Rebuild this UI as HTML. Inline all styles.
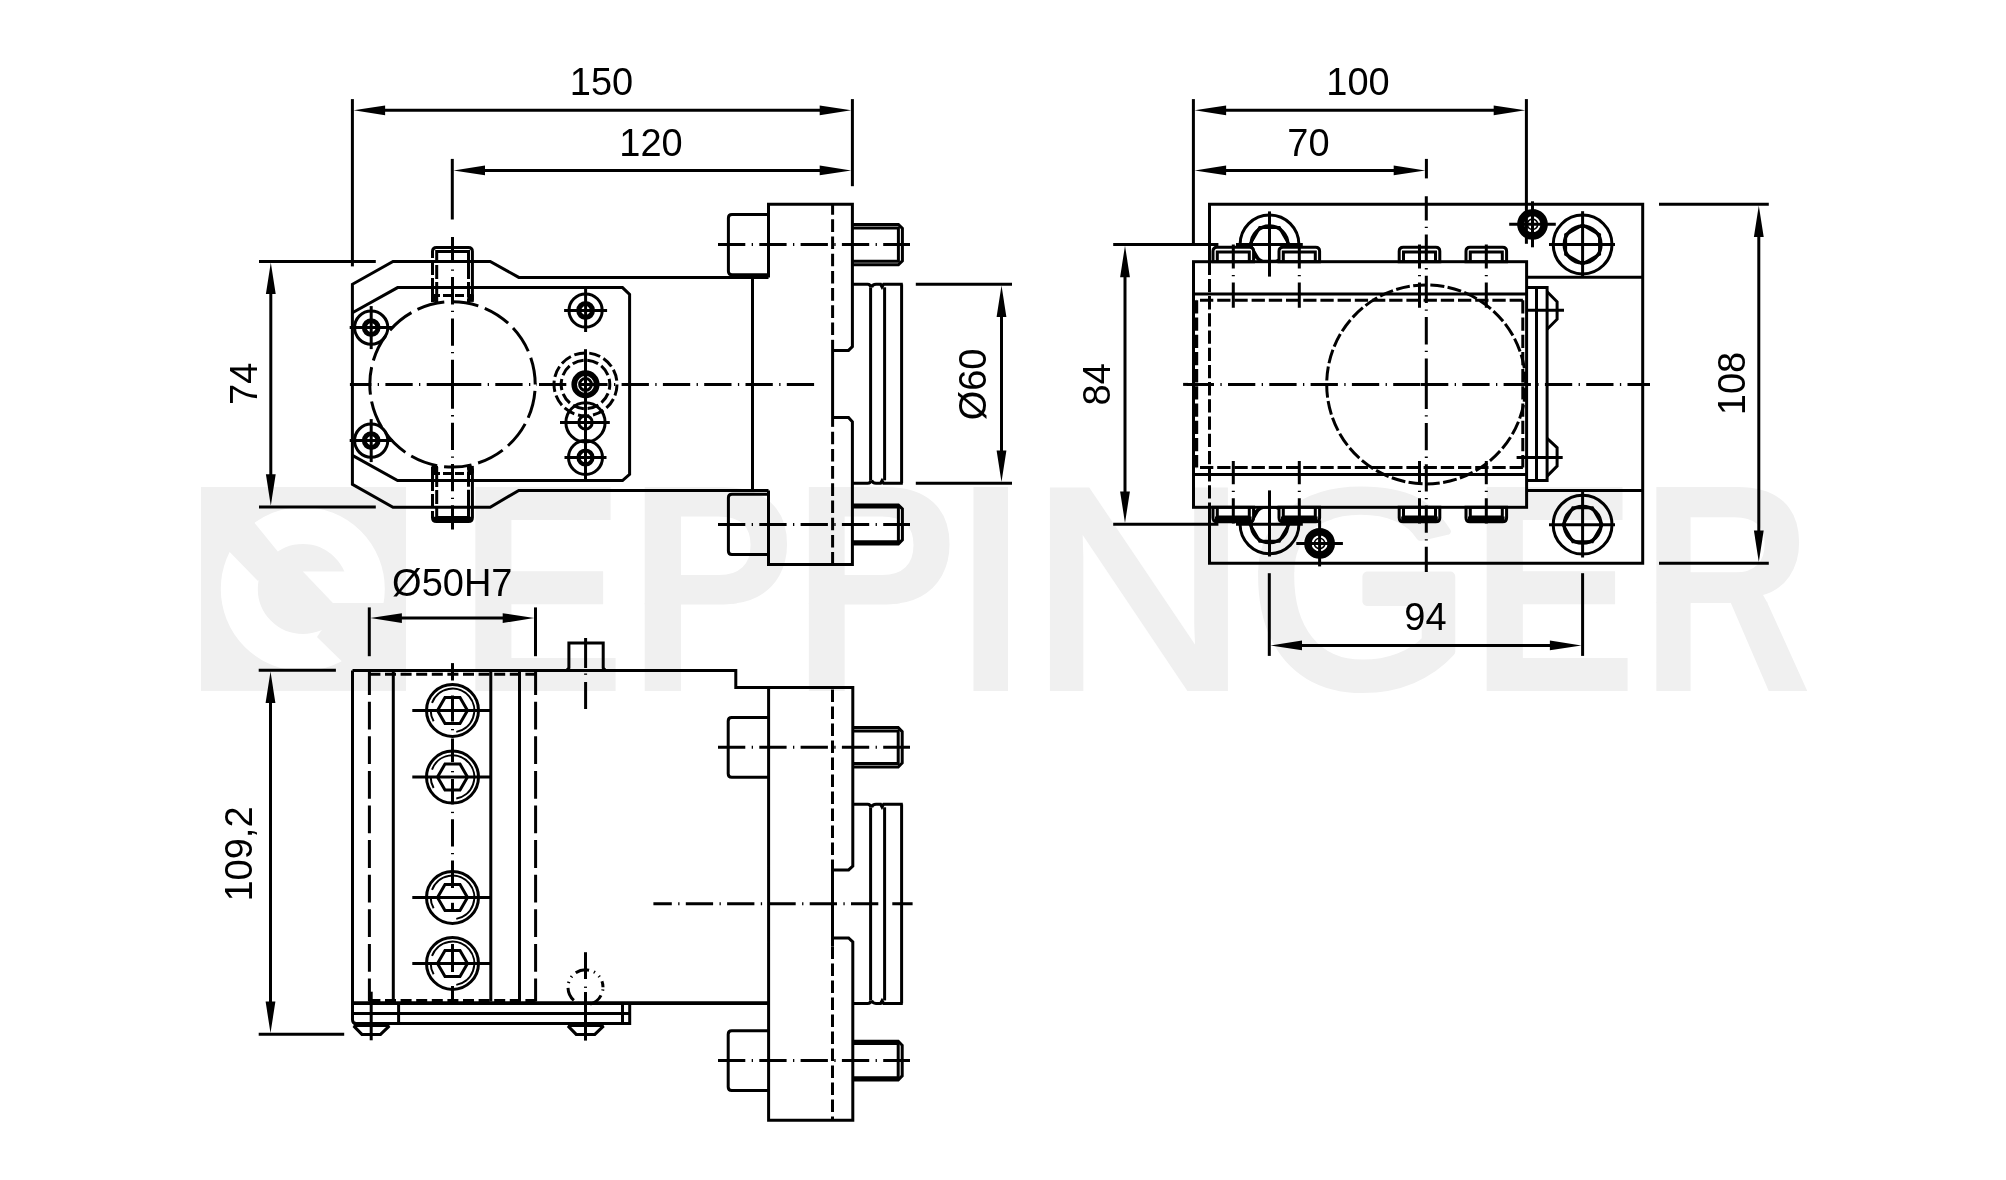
<!DOCTYPE html>
<html><head><meta charset="utf-8"><title>Drawing</title>
<style>
html,body{margin:0;padding:0;background:#fff;}
body{width:2006px;height:1180px;overflow:hidden;}
svg{display:block;font-family:"Liberation Sans",sans-serif;}
</style></head><body>
<svg width="2006" height="1180" viewBox="0 0 2006 1180" fill="none" stroke="#000" stroke-linecap="butt" stroke-linejoin="miter">
<rect x="0" y="0" width="2006" height="1180" fill="#fff" stroke="none"/>
<g stroke="none" fill="#f0f0f0">
<rect x="201" y="487" width="205" height="203.9"/>
</g>
<g stroke="none">
<circle cx="302.8" cy="589" r="63.5" fill="none" stroke="#fff" stroke-width="37"/>
<polygon points="244,510 279,553 258,581 218,540" fill="#f0f0f0"/>
<polygon points="340,603.1 395,603.1 395,680 361,680 317,637" fill="#f0f0f0"/>
<polygon points="302.8,571.5 352,571.5 352,603.1 332.9,603.1" fill="#fff"/>
</g>
<g stroke="none" fill="#f0f0f0" font-weight="bold" font-size="296.5" aria-label="EPPINGER"><title>EPPINGER</title>
<text x="0" y="0" transform="translate(458.66 691) scale(0.8429 1)">E</text>
<clipPath id="wt1"><rect x="624.9" y="470" width="182.1" height="134.2"/></clipPath>
<clipPath id="wb1"><rect x="624.9" y="603" width="182.1" height="116.4"/></clipPath>
<g clip-path="url(#wt1)"><text x="0" y="0" transform="translate(627.9 667.89) scale(0.8482 0.8867)">P</text></g>
<g clip-path="url(#wb1)"><text x="0" y="0" transform="translate(627.9 691) scale(0.8482 1.2055)">P</text></g>
<clipPath id="wt2"><rect x="789" y="470" width="180.5" height="134.2"/></clipPath>
<clipPath id="wb2"><rect x="789" y="603" width="180.5" height="116.4"/></clipPath>
<g clip-path="url(#wt2)"><text x="0" y="0" transform="translate(792.19 667.89) scale(0.8387 0.8867)">P</text></g>
<g clip-path="url(#wb2)"><text x="0" y="0" transform="translate(792.19 691) scale(0.8387 1.2055)">P</text></g>
<text x="0" y="0" transform="translate(957.42 691) scale(0.8092 1)">I</text>
<text x="0" y="0" font-weight="normal" stroke="#f0f0f0" stroke-width="8" transform="translate(1029.09 687.24) scale(1.0253 0.9604)">N</text>
<clipPath id="wc3"><rect x="1217.97" y="477.5" width="320" height="43.1"/></clipPath>
<g clip-path="url(#wc3)"><text x="0" y="0" font-weight="normal" stroke="#f0f0f0" stroke-width="9" stroke-linejoin="round" transform="translate(1247.97 675.12) scale(0.9734 0.8915)">G</text></g>
<clipPath id="wc4"><rect x="1217.97" y="519.4" width="320" height="52.5"/></clipPath>
<g clip-path="url(#wc4)"><text x="0" y="0" font-weight="normal" stroke="#f0f0f0" stroke-width="9" stroke-linejoin="round" transform="translate(1247.97 653.23) scale(0.9734 0.7657)">G</text></g>
<clipPath id="wc5"><rect x="1217.97" y="570.7" width="320" height="136.4"/></clipPath>
<g clip-path="url(#wc5)"><text x="0" y="0" font-weight="normal" stroke="#f0f0f0" stroke-width="9" stroke-linejoin="round" transform="translate(1247.97 685.21) scale(0.9734 1.0646)">G</text></g>
<text x="0" y="0" transform="translate(1469.87 691) scale(0.8471 1)">E</text>
<clipPath id="wt6"><rect x="1636.2" y="470" width="189" height="133.2"/></clipPath>
<clipPath id="wb6"><rect x="1636.2" y="602" width="189" height="117.4"/></clipPath>
<g clip-path="url(#wt6)"><text x="0" y="0" transform="translate(1640.41 673.42) scale(0.8020 0.9138)">R</text></g>
<g clip-path="url(#wb6)"><text x="0" y="0" transform="translate(1640.41 691) scale(0.8020 1.1406)">R</text></g>
</g>
<path d="M768.5 277.4 L518.8 277.4 L490.2 261.4 L393 261.4 L352.4 284.3 L352.4 484.4 L393 507.3 L490.2 507.3 L518.8 490.4 L768.5 490.4" fill="none" stroke-width="3" />
<line x1="752.5" y1="277.4" x2="752.5" y2="490.4" stroke-width="3" />
<path d="M352.4 312.8 L397.6 287.6 L622.5 287.6 L629.6 294.3 L629.6 474.3 L622.5 480.6 L397.6 480.6 L352.4 455.4" fill="none" stroke-width="3" />
<path d="M832.6 350.4 L848.5 350.4 L852.4 346.6 L852.4 204.3 L768.5 204.3 L768.5 277.4" fill="none" stroke-width="3" />
<path d="M768.5 490.4 L768.5 564.5 L852.4 564.5 L852.4 421.8 L848.5 417.4 L832.6 417.4" fill="none" stroke-width="3" />
<line x1="832.6" y1="339.8" x2="832.6" y2="426.8" stroke-width="3" />
<line x1="832.6" y1="204.3" x2="832.6" y2="339.8" stroke-width="3" stroke-dasharray="12.6 4.6" stroke-dashoffset="2.2"/>
<line x1="832.6" y1="426.8" x2="832.6" y2="564.5" stroke-width="3" stroke-dasharray="12.6 4.6" stroke-dashoffset="12.3"/>
<path d="M768.5 214.4 H731.9 Q728.4 214.4 728.4 217.9 V271.3 Q728.4 274.8 731.9 274.8 H768.5" fill="none" stroke-width="3" />
<path d="M852.4 224.4 H898.4 L902.4 228.4 V260.8 L898.4 264.8 H852.4" fill="none" stroke-width="3" />
<path d="M852.4 228 H898.4 V261.2 H852.4" fill="none" stroke-width="3" />
<line x1="718" y1="244.6" x2="910" y2="244.6" stroke-width="3" stroke-dasharray="27.3 6.4 1.3 6.3" stroke-dashoffset="0"/>
<path d="M768.5 494.2 H731.9 Q728.4 494.2 728.4 497.7 V551.1 Q728.4 554.6 731.9 554.6 H768.5" fill="none" stroke-width="3" />
<path d="M852.4 504.9 H898.4 L902.4 508.9 V539.9 L898.4 543.9 H852.4" fill="none" stroke-width="3" />
<path d="M852.4 507.1 H898.4 V541.7 H852.4" fill="none" stroke-width="3" />
<line x1="718" y1="524.4" x2="910" y2="524.4" stroke-width="3" stroke-dasharray="27.3 6.4 1.3 6.3" stroke-dashoffset="0"/>
<line x1="870.6" y1="287.3" x2="870.6" y2="480.3" stroke-width="3" />
<line x1="884.6" y1="287.3" x2="884.6" y2="480.3" stroke-width="3" />
<line x1="901.6" y1="284.3" x2="901.6" y2="483.3" stroke-width="3" />
<path d="M852.4 284.3 H867.6 Q870.6 284.3 870.6 287.3 M871.6 287.3 Q872.5 284.3 876 284.3 H880.6 L882 286.9 L883.6 284.3 H902.8" fill="none" stroke-width="3" />
<path d="M852.4 483.3 H867.6 Q870.6 483.3 870.6 480.3 M871.6 480.3 Q872.5 483.3 876 483.3 H880.6 L882 480.7 L883.6 483.3 H902.8" fill="none" stroke-width="3" />
<line x1="915.8" y1="284.3" x2="1012" y2="284.3" stroke-width="3" />
<line x1="915.8" y1="483.3" x2="1012" y2="483.3" stroke-width="3" />
<line x1="1001.5" y1="304.3" x2="1001.5" y2="463.3" stroke-width="3" />
<polygon points="1001.5,285.5 1006.4,317 996.6,317" fill="#000" stroke="none"/>
<polygon points="1001.5,482.1 996.6,450.6 1006.4,450.6" fill="#000" stroke="none"/>
<g style="mix-blend-mode:multiply"><text x="0" y="0" font-size="39.5" text-anchor="middle" transform="translate(985.6 384.4) rotate(-90) scale(0.962 1)" fill="#000" stroke="none">Ø60</text></g>
<circle cx="452.5" cy="384.4" r="82.7" fill="none" stroke-width="3" stroke-dasharray="27.8 6.84" stroke-dashoffset="28.1"/>
<circle cx="371.2" cy="327.6" r="16.6" fill="none" stroke-width="3" />
<circle cx="371.2" cy="327.6" r="6.9" fill="none" stroke-width="5" />
<line x1="349.7" y1="327.6" x2="392.7" y2="327.6" stroke-width="3" />
<line x1="371.2" y1="306.1" x2="371.2" y2="349.1" stroke-width="3" />
<circle cx="371.2" cy="440.6" r="16.6" fill="none" stroke-width="3" />
<circle cx="371.2" cy="440.6" r="6.9" fill="none" stroke-width="5" />
<line x1="349.7" y1="440.6" x2="392.7" y2="440.6" stroke-width="3" />
<line x1="371.2" y1="419.1" x2="371.2" y2="462.1" stroke-width="3" />
<circle cx="585.6" cy="310.5" r="16.6" fill="none" stroke-width="3" />
<circle cx="585.6" cy="310.5" r="6.9" fill="none" stroke-width="5" />
<line x1="564.1" y1="310.5" x2="607.1" y2="310.5" stroke-width="3" />
<line x1="585.6" y1="289" x2="585.6" y2="332" stroke-width="3" />
<circle cx="585.5" cy="457.5" r="17" fill="none" stroke-width="3" />
<circle cx="585.5" cy="457.5" r="7" fill="none" stroke-width="4.2" />
<line x1="564.5" y1="457.5" x2="606.5" y2="457.5" stroke-width="3" />
<line x1="585.5" y1="436.5" x2="585.5" y2="478.5" stroke-width="3" />
<circle cx="585.5" cy="422.4" r="19.6" fill="none" stroke-width="3" />
<circle cx="585.5" cy="422.4" r="6.7" fill="none" stroke-width="3" />
<line x1="560" y1="422.4" x2="609.8" y2="422.4" stroke-width="3" />
<circle cx="585.5" cy="384.4" r="31.5" fill="none" stroke-width="3" stroke-dasharray="11.4 3.8"/>
<circle cx="585.5" cy="384.4" r="24.3" fill="none" stroke-width="3" stroke-dasharray="11.4 3.8" stroke-dashoffset="6"/>
<circle cx="585.5" cy="384.4" r="11.3" fill="none" stroke-width="5.6" />
<circle cx="585.5" cy="384.4" r="5.9" fill="none" stroke-width="3" />
<line x1="585.5" y1="349.2" x2="585.5" y2="479" stroke-width="3" />
<path d="M432.5 301.9 V251.4 Q432.5 247.4 436.5 247.4 H468.4 Q472.4 247.4 472.4 251.4 V301.9" fill="none" stroke-width="3" stroke-dasharray="24 3 14 3 100 3 14 3 24"/>
<path d="M436.7 301.9 V251.4 H468.5 V301.9" fill="none" stroke-width="3" stroke-dasharray="20 3 14 3 70 3 14 3 20"/>
<line x1="433" y1="295.4" x2="472" y2="295.4" stroke-width="3" stroke-dasharray="9 3" stroke-dashoffset="2"/>
<rect x="431.5" y="294.4" width="6.5" height="7.5" fill="#000" stroke="none"/>
<rect x="467.3" y="294.4" width="6.5" height="7.5" fill="#000" stroke="none"/>
<path d="M432.5 466.9 V517.4 Q432.5 521.4 436.5 521.4 H468.4 Q472.4 521.4 472.4 517.4 V466.9" fill="none" stroke-width="3" stroke-dasharray="24 3 14 3 100 3 14 3 24"/>
<path d="M436.7 466.9 V517.4 H468.5 V466.9" fill="none" stroke-width="3" stroke-dasharray="20 3 14 3 70 3 14 3 20"/>
<line x1="433" y1="473.4" x2="472" y2="473.4" stroke-width="3" stroke-dasharray="9 3" stroke-dashoffset="2"/>
<rect x="431.5" y="465.9" width="6.5" height="7.5" fill="#000" stroke="none"/>
<rect x="467.3" y="465.9" width="6.5" height="7.5" fill="#000" stroke="none"/>
<line x1="434" y1="519.4" x2="471" y2="519.4" stroke-width="5.2" />
<line x1="454" y1="384.4" x2="349.9" y2="384.4" stroke-width="3" stroke-dasharray="27.3 6.4 1.3 6.3" stroke-dashoffset="0"/>
<line x1="454" y1="384.4" x2="537" y2="384.4" stroke-width="3" stroke-dasharray="27.3 6.4 1.3 6.3" stroke-dashoffset="0"/>
<line x1="539" y1="384.4" x2="817" y2="384.4" stroke-width="3" stroke-dasharray="27.3 6.4 1.3 6.3" stroke-dashoffset="0"/>
<line x1="452.3" y1="158.9" x2="452.3" y2="219.5" stroke-width="3" />
<line x1="452.5" y1="384.4" x2="452.5" y2="237.1" stroke-width="3" stroke-dasharray="27.3 6.4 1.3 6.3" stroke-dashoffset="2.6"/>
<line x1="452.5" y1="384.4" x2="452.5" y2="529.6" stroke-width="3" stroke-dasharray="27.3 6.4 1.3 6.3" stroke-dashoffset="3"/>
<line x1="352.4" y1="99.1" x2="352.4" y2="266.4" stroke-width="3" />
<line x1="852.4" y1="99.1" x2="852.4" y2="186.2" stroke-width="3" />
<line x1="372.4" y1="110.3" x2="832.4" y2="110.3" stroke-width="3" />
<polygon points="353.6,110.3 385.1,105.4 385.1,115.2" fill="#000" stroke="none"/>
<polygon points="851.2,110.3 819.7,115.2 819.7,105.4" fill="#000" stroke="none"/>
<g style="mix-blend-mode:multiply"><text x="0" y="0" font-size="39.5" text-anchor="middle" transform="translate(601.5 95.4) scale(0.962 1)" fill="#000" stroke="none">150</text></g>
<line x1="472.3" y1="170.4" x2="832.4" y2="170.4" stroke-width="3" />
<polygon points="453.5,170.4 485,165.5 485,175.3" fill="#000" stroke="none"/>
<polygon points="851.2,170.4 819.7,175.3 819.7,165.5" fill="#000" stroke="none"/>
<g style="mix-blend-mode:multiply"><text x="0" y="0" font-size="39.5" text-anchor="middle" transform="translate(651 155.9) scale(0.962 1)" fill="#000" stroke="none">120</text></g>
<line x1="259" y1="261.4" x2="375.8" y2="261.4" stroke-width="3" />
<line x1="259" y1="506.9" x2="375.8" y2="506.9" stroke-width="3" />
<line x1="270.8" y1="281.4" x2="270.8" y2="486.9" stroke-width="3" />
<polygon points="270.8,262.6 275.7,294.1 265.9,294.1" fill="#000" stroke="none"/>
<polygon points="270.8,505.7 265.9,474.2 275.7,474.2" fill="#000" stroke="none"/>
<g style="mix-blend-mode:multiply"><text x="0" y="0" font-size="39.5" text-anchor="middle" transform="translate(257 383.8) rotate(-90) scale(0.962 1)" fill="#000" stroke="none">74</text></g>
<defs><clipPath id="ct"><rect x="1200" y="180" width="140" height="81.7"/></clipPath><clipPath id="cb"><rect x="1200" y="507.3" width="140" height="80"/></clipPath></defs>
<g clip-path="url(#ct)">
<circle cx="1269.5" cy="244.4" r="29.4" fill="none" stroke-width="3" />
<circle cx="1269.5" cy="244.4" r="18.4" fill="none" stroke-width="3.3" />
<path d="M1289.1 244.4 L1279.3 261.37 L1259.7 261.37 L1249.9 244.4 L1259.7 227.43 L1279.3 227.43 Z" fill="none" stroke-width="3" />
</g>
<g clip-path="url(#cb)">
<circle cx="1269.5" cy="524.3" r="29.4" fill="none" stroke-width="3" />
<circle cx="1269.5" cy="524.3" r="18.4" fill="none" stroke-width="3.3" />
<path d="M1289.1 524.3 L1279.3 541.27 L1259.7 541.27 L1249.9 524.3 L1259.7 507.33 L1279.3 507.33 Z" fill="none" stroke-width="3" />
</g>
<circle cx="1582.6" cy="244.5" r="29.4" fill="none" stroke-width="3" />
<circle cx="1582.6" cy="244.5" r="18.4" fill="none" stroke-width="3.3" />
<path d="M1599.57 254.3 L1582.6 264.1 L1565.63 254.3 L1565.63 234.7 L1582.6 224.9 L1599.57 234.7 Z" fill="none" stroke-width="3" />
<circle cx="1582.6" cy="524.7" r="29.4" fill="none" stroke-width="3" />
<circle cx="1582.6" cy="524.7" r="18.4" fill="none" stroke-width="3.3" />
<path d="M1602.2 524.7 L1592.4 541.67 L1572.8 541.67 L1563 524.7 L1572.8 507.73 L1592.4 507.73 Z" fill="none" stroke-width="3" />
<line x1="1236" y1="244.5" x2="1302.8" y2="244.5" stroke-width="3" />
<line x1="1269.5" y1="211.4" x2="1269.5" y2="276.6" stroke-width="3" />
<line x1="1236" y1="524.3" x2="1302.8" y2="524.3" stroke-width="3" />
<line x1="1269.5" y1="490.4" x2="1269.5" y2="556.5" stroke-width="3" />
<line x1="1549" y1="244.5" x2="1615" y2="244.5" stroke-width="3" />
<line x1="1582.6" y1="211.2" x2="1582.6" y2="276" stroke-width="3" />
<line x1="1549" y1="524.7" x2="1615" y2="524.7" stroke-width="3" />
<line x1="1582.6" y1="492" x2="1582.6" y2="557.5" stroke-width="3" />
<path d="M1209.5 261.7 L1209.5 204.3 L1642.7 204.3 L1642.7 563.3 L1209.5 563.3 L1209.5 507.3" fill="none" stroke-width="3" />
<line x1="1209.5" y1="261.7" x2="1209.5" y2="507.3" stroke-width="3" stroke-dasharray="13.3 3.9" stroke-dashoffset="0"/>
<line x1="1526.6" y1="277.2" x2="1642.7" y2="277.2" stroke-width="3" />
<line x1="1526.6" y1="490.4" x2="1642.7" y2="490.4" stroke-width="3" />
<path d="M1213 261.7 V251.3 Q1213 247.3 1217 247.3 H1249.6 Q1253.6 247.3 1253.6 251.3 V261.7 Z" fill="#fff" stroke-width="3" />
<path d="M1217.3 261.7 V251.9 H1249.3 V261.7" fill="none" stroke-width="3" />
<line x1="1233.3" y1="244.5" x2="1233.3" y2="307.8" stroke-width="3" stroke-dasharray="27.3 6.4 1.3 6.3" stroke-dashoffset="3.3"/>
<path d="M1213 507.3 V517.7 Q1213 521.7 1217 521.7 H1249.6 Q1253.6 521.7 1253.6 517.7 V507.3 Z" fill="#fff" stroke-width="3" />
<path d="M1217.3 507.3 V517.1 H1249.3 V507.3" fill="none" stroke-width="3" />
<line x1="1215" y1="519.4" x2="1251.6" y2="519.4" stroke-width="5.6" />
<line x1="1233.3" y1="461" x2="1233.3" y2="523.5" stroke-width="3" stroke-dasharray="27.3 6.4 1.3 6.3" stroke-dashoffset="4"/>
<path d="M1279 261.7 V251.3 Q1279 247.3 1283 247.3 H1315.6 Q1319.6 247.3 1319.6 251.3 V261.7 Z" fill="#fff" stroke-width="3" />
<path d="M1283.3 261.7 V251.9 H1315.3 V261.7" fill="none" stroke-width="3" />
<line x1="1299.3" y1="244.5" x2="1299.3" y2="307.8" stroke-width="3" stroke-dasharray="27.3 6.4 1.3 6.3" stroke-dashoffset="3.3"/>
<path d="M1279 507.3 V517.7 Q1279 521.7 1283 521.7 H1315.6 Q1319.6 521.7 1319.6 517.7 V507.3 Z" fill="#fff" stroke-width="3" />
<path d="M1283.3 507.3 V517.1 H1315.3 V507.3" fill="none" stroke-width="3" />
<line x1="1281" y1="519.4" x2="1317.6" y2="519.4" stroke-width="5.6" />
<line x1="1299.3" y1="461" x2="1299.3" y2="523.5" stroke-width="3" stroke-dasharray="27.3 6.4 1.3 6.3" stroke-dashoffset="4"/>
<path d="M1399.2 261.7 V251.3 Q1399.2 247.3 1403.2 247.3 H1435.8 Q1439.8 247.3 1439.8 251.3 V261.7 Z" fill="#fff" stroke-width="3" />
<path d="M1403.5 261.7 V251.9 H1435.5 V261.7" fill="none" stroke-width="3" />
<line x1="1419.5" y1="244.5" x2="1419.5" y2="307.8" stroke-width="3" stroke-dasharray="27.3 6.4 1.3 6.3" stroke-dashoffset="3.3"/>
<path d="M1399.2 507.3 V517.7 Q1399.2 521.7 1403.2 521.7 H1435.8 Q1439.8 521.7 1439.8 517.7 V507.3 Z" fill="#fff" stroke-width="3" />
<path d="M1403.5 507.3 V517.1 H1435.5 V507.3" fill="none" stroke-width="3" />
<line x1="1401.2" y1="519.4" x2="1437.8" y2="519.4" stroke-width="5.6" />
<line x1="1419.5" y1="461" x2="1419.5" y2="523.5" stroke-width="3" stroke-dasharray="27.3 6.4 1.3 6.3" stroke-dashoffset="4"/>
<path d="M1466 261.7 V251.3 Q1466 247.3 1470 247.3 H1502.6 Q1506.6 247.3 1506.6 251.3 V261.7 Z" fill="#fff" stroke-width="3" />
<path d="M1470.3 261.7 V251.9 H1502.3 V261.7" fill="none" stroke-width="3" />
<line x1="1486.3" y1="244.5" x2="1486.3" y2="307.8" stroke-width="3" stroke-dasharray="27.3 6.4 1.3 6.3" stroke-dashoffset="3.3"/>
<path d="M1466 507.3 V517.7 Q1466 521.7 1470 521.7 H1502.6 Q1506.6 521.7 1506.6 517.7 V507.3 Z" fill="#fff" stroke-width="3" />
<path d="M1470.3 507.3 V517.1 H1502.3 V507.3" fill="none" stroke-width="3" />
<line x1="1468" y1="519.4" x2="1504.6" y2="519.4" stroke-width="5.6" />
<line x1="1486.3" y1="461" x2="1486.3" y2="523.5" stroke-width="3" stroke-dasharray="27.3 6.4 1.3 6.3" stroke-dashoffset="4"/>
<rect x="1193.5" y="261.7" width="333.1" height="245.6" stroke-width="3"/>
<line x1="1193.5" y1="294.1" x2="1526.6" y2="294.1" stroke-width="3" />
<line x1="1193.5" y1="474.4" x2="1526.6" y2="474.4" stroke-width="3" />
<line x1="1196" y1="300.3" x2="1523" y2="300.3" stroke-width="3" stroke-dasharray="13.3 3.9" stroke-dashoffset="-4"/>
<line x1="1196" y1="467.6" x2="1523" y2="467.6" stroke-width="3" stroke-dasharray="13.3 3.9" stroke-dashoffset="-4"/>
<line x1="1196.4" y1="300.3" x2="1196.4" y2="467.6" stroke-width="3.6" stroke-dasharray="13.3 3.9" stroke-dashoffset="0"/>
<line x1="1522.8" y1="300.3" x2="1522.8" y2="467.6" stroke-width="3" stroke-dasharray="13.3 3.9" stroke-dashoffset="0"/>
<circle cx="1426.2" cy="384.4" r="99.5" fill="none" stroke-width="3" stroke-dasharray="14 3.366" stroke-dashoffset="13.9"/>
<circle cx="1532.5" cy="224.3" r="11.7" fill="none" stroke-width="7.4" />
<circle cx="1532.5" cy="224.3" r="5.2" fill="none" stroke-width="1.6" />
<line x1="1509.2" y1="224.3" x2="1555.8" y2="224.3" stroke-width="3" />
<line x1="1532.5" y1="201.3" x2="1532.5" y2="247.3" stroke-width="3" />
<circle cx="1319.6" cy="543.4" r="11.7" fill="none" stroke-width="7.4" />
<circle cx="1319.6" cy="543.4" r="5.2" fill="none" stroke-width="1.6" />
<line x1="1296.3" y1="543.4" x2="1342.9" y2="543.4" stroke-width="3" />
<line x1="1319.6" y1="520.4" x2="1319.6" y2="566.4" stroke-width="3" />
<path d="M1526.6 287.4 L1547.1 287.4 L1547.1 480.6 L1526.6 480.6" fill="none" stroke-width="3" />
<line x1="1536.5" y1="287.4" x2="1536.5" y2="480.6" stroke-width="3" />
<path d="M1547.1 291.8 L1557.1 301.8 L1557.1 319.2 L1547.1 329.2" fill="none" stroke-width="3" />
<path d="M1547.1 438.4 L1557.1 447.6 L1557.1 466.1 L1547.1 476.1" fill="none" stroke-width="3" />
<line x1="1526.6" y1="310.3" x2="1564" y2="310.3" stroke-width="3" />
<line x1="1516.6" y1="457.4" x2="1562.7" y2="457.4" stroke-width="3" />
<line x1="1183.1" y1="384.4" x2="1421" y2="384.4" stroke-width="3" stroke-dasharray="27.3 6.4 1.3 6.3" stroke-dashoffset="37.7"/>
<line x1="1183.1" y1="384.4" x2="1188" y2="384.4" stroke-width="3" />
<line x1="1421" y1="384.4" x2="1650" y2="384.4" stroke-width="3" stroke-dasharray="27.3 6.4 1.3 6.3" stroke-dashoffset="0"/>
<line x1="1426.4" y1="158.9" x2="1426.4" y2="178.4" stroke-width="3" />
<line x1="1426.3" y1="384.4" x2="1426.3" y2="196.2" stroke-width="3" stroke-dasharray="27.3 6.4 1.3 6.3" stroke-dashoffset="1.3"/>
<line x1="1426.3" y1="384.4" x2="1426.3" y2="572.1" stroke-width="3" stroke-dasharray="27.3 6.4 1.3 6.3" stroke-dashoffset="2.8"/>
<line x1="1193.4" y1="99.1" x2="1193.4" y2="244.4" stroke-width="3" />
<line x1="1526.4" y1="99.1" x2="1526.4" y2="243.8" stroke-width="3" />
<line x1="1213.4" y1="110.3" x2="1506.4" y2="110.3" stroke-width="3" />
<polygon points="1194.6,110.3 1226.1,105.4 1226.1,115.2" fill="#000" stroke="none"/>
<polygon points="1525.2,110.3 1493.7,115.2 1493.7,105.4" fill="#000" stroke="none"/>
<g style="mix-blend-mode:multiply"><text x="0" y="0" font-size="39.5" text-anchor="middle" transform="translate(1358 95.4) scale(0.962 1)" fill="#000" stroke="none">100</text></g>
<line x1="1213.4" y1="170.4" x2="1406.4" y2="170.4" stroke-width="3" />
<polygon points="1194.6,170.4 1226.1,165.5 1226.1,175.3" fill="#000" stroke="none"/>
<polygon points="1425.2,170.4 1393.7,175.3 1393.7,165.5" fill="#000" stroke="none"/>
<g style="mix-blend-mode:multiply"><text x="0" y="0" font-size="39.5" text-anchor="middle" transform="translate(1308.5 155.9) scale(0.962 1)" fill="#000" stroke="none">70</text></g>
<line x1="1113.2" y1="244.5" x2="1218.4" y2="244.5" stroke-width="3" />
<line x1="1113.2" y1="524.2" x2="1218.4" y2="524.2" stroke-width="3" />
<line x1="1125" y1="264.5" x2="1125" y2="504.2" stroke-width="3" />
<polygon points="1125,245.7 1129.9,277.2 1120.1,277.2" fill="#000" stroke="none"/>
<polygon points="1125,523 1120.1,491.5 1129.9,491.5" fill="#000" stroke="none"/>
<g style="mix-blend-mode:multiply"><text x="0" y="0" font-size="39.5" text-anchor="middle" transform="translate(1110.4 384.3) rotate(-90) scale(0.962 1)" fill="#000" stroke="none">84</text></g>
<line x1="1659" y1="204.2" x2="1768.8" y2="204.2" stroke-width="3" />
<line x1="1659" y1="563.3" x2="1768.8" y2="563.3" stroke-width="3" />
<line x1="1758.8" y1="224.2" x2="1758.8" y2="543.3" stroke-width="3" />
<polygon points="1758.8,205.4 1763.7,236.9 1753.9,236.9" fill="#000" stroke="none"/>
<polygon points="1758.8,562.1 1753.9,530.6 1763.7,530.6" fill="#000" stroke="none"/>
<g style="mix-blend-mode:multiply"><text x="0" y="0" font-size="39.5" text-anchor="middle" transform="translate(1744.6 383.5) rotate(-90) scale(0.962 1)" fill="#000" stroke="none">108</text></g>
<line x1="1269.3" y1="573.2" x2="1269.3" y2="655.9" stroke-width="3" />
<line x1="1582.6" y1="573.2" x2="1582.6" y2="655.9" stroke-width="3" />
<line x1="1289.3" y1="645.4" x2="1562.6" y2="645.4" stroke-width="3" />
<polygon points="1270.5,645.4 1302,640.5 1302,650.3" fill="#000" stroke="none"/>
<polygon points="1581.4,645.4 1549.9,650.3 1549.9,640.5" fill="#000" stroke="none"/>
<g style="mix-blend-mode:multiply"><text x="0" y="0" font-size="39.5" text-anchor="middle" transform="translate(1425.5 629.7) scale(0.962 1)" fill="#000" stroke="none">94</text></g>
<path d="M352.5 670.5 H735.8 V687.4 H852.8 V866 L848.6 869.9 H832.5 M832.5 937.9 H848.6 L852.8 942 V1120.3 H768.6 V687.4" fill="none" stroke-width="3" />
<path d="M352.5 670.5 V1019.4 Q352.5 1023.4 356.5 1023.4 H629.7 V1003.2" fill="none" stroke-width="3" />
<line x1="352.5" y1="1003.1" x2="768.6" y2="1003.1" stroke-width="3.8" />
<line x1="352.5" y1="1013.5" x2="629.7" y2="1013.5" stroke-width="3" />
<line x1="622.5" y1="1003.2" x2="622.5" y2="1023.4" stroke-width="3" />
<line x1="398.6" y1="1003.2" x2="398.6" y2="1023.4" stroke-width="3" />
<line x1="832.5" y1="859.5" x2="832.5" y2="946.5" stroke-width="3" />
<line x1="832.5" y1="687.4" x2="832.5" y2="859.5" stroke-width="3" stroke-dasharray="12.6 4.4" stroke-dashoffset="-2"/>
<line x1="832.5" y1="946.5" x2="832.5" y2="1120.3" stroke-width="3" stroke-dasharray="12.6 4.4" stroke-dashoffset="0"/>
<line x1="393.3" y1="670.5" x2="393.3" y2="1001.5" stroke-width="3" />
<line x1="490.8" y1="670.5" x2="490.8" y2="1001.5" stroke-width="3" />
<line x1="519.5" y1="670.5" x2="519.5" y2="1001.5" stroke-width="3" />
<line x1="369.4" y1="671.7" x2="369.4" y2="1001.5" stroke-width="3" stroke-dasharray="27.8 6.8" stroke-dashoffset="4.6"/>
<line x1="535.6" y1="671.7" x2="535.6" y2="1001.5" stroke-width="3" stroke-dasharray="27.8 6.8" stroke-dashoffset="4.6"/>
<line x1="369.4" y1="674.3" x2="535.6" y2="674.3" stroke-width="3" stroke-dasharray="11 4.6" stroke-dashoffset="0"/>
<line x1="369.4" y1="1000.4" x2="535.6" y2="1000.4" stroke-width="3" stroke-dasharray="11 4.6" stroke-dashoffset="0"/>
<circle cx="452.5" cy="710.4" r="26" fill="none" stroke-width="3" />
<path d="M432.01 702.94 A21.8 21.8 0 1 1 456.29 731.87" fill="none" stroke-width="2" />
<path d="M433.62 721.3 A21.8 21.8 0 0 1 430.7 710.4" fill="none" stroke-width="2" />
<path d="M467.5 710.4 L460 723.39 L445 723.39 L437.5 710.4 L445 697.41 L460 697.41 Z" fill="none" stroke-width="3" />
<line x1="412.3" y1="710.4" x2="490.8" y2="710.4" stroke-width="3" />
<circle cx="452.5" cy="777.1" r="26" fill="none" stroke-width="3" />
<path d="M432.01 769.64 A21.8 21.8 0 1 1 456.29 798.57" fill="none" stroke-width="2" />
<path d="M433.62 788 A21.8 21.8 0 0 1 430.7 777.1" fill="none" stroke-width="2" />
<path d="M467.5 777.1 L460 790.09 L445 790.09 L437.5 777.1 L445 764.11 L460 764.11 Z" fill="none" stroke-width="3" />
<line x1="412.3" y1="777.1" x2="490.8" y2="777.1" stroke-width="3" />
<circle cx="452.5" cy="897.4" r="26" fill="none" stroke-width="3" />
<path d="M432.01 889.94 A21.8 21.8 0 1 1 456.29 918.87" fill="none" stroke-width="2" />
<path d="M433.62 908.3 A21.8 21.8 0 0 1 430.7 897.4" fill="none" stroke-width="2" />
<path d="M467.5 897.4 L460 910.39 L445 910.39 L437.5 897.4 L445 884.41 L460 884.41 Z" fill="none" stroke-width="3" />
<line x1="412.3" y1="897.4" x2="490.8" y2="897.4" stroke-width="3" />
<circle cx="452.5" cy="963.4" r="26" fill="none" stroke-width="3" />
<path d="M432.01 955.94 A21.8 21.8 0 1 1 456.29 984.87" fill="none" stroke-width="2" />
<path d="M433.62 974.3 A21.8 21.8 0 0 1 430.7 963.4" fill="none" stroke-width="2" />
<path d="M467.5 963.4 L460 976.39 L445 976.39 L437.5 963.4 L445 950.41 L460 950.41 Z" fill="none" stroke-width="3" />
<line x1="412.3" y1="963.4" x2="490.8" y2="963.4" stroke-width="3" />
<line x1="452.5" y1="663.1" x2="452.5" y2="680.5" stroke-width="3" />
<line x1="452.5" y1="695.5" x2="452.5" y2="721.6" stroke-width="3" />
<line x1="452.5" y1="729" x2="452.5" y2="730.3" stroke-width="3" stroke-dasharray="1.3 1" stroke-dashoffset="0"/>
<line x1="452.5" y1="738.5" x2="452.5" y2="762.1" stroke-width="3" />
<line x1="452.5" y1="771" x2="452.5" y2="772.3" stroke-width="3" stroke-dasharray="1.3 1" stroke-dashoffset="0"/>
<line x1="452.5" y1="779" x2="452.5" y2="804.3" stroke-width="3" />
<line x1="452.5" y1="811.8" x2="452.5" y2="813.1" stroke-width="3" stroke-dasharray="1.3 1" stroke-dashoffset="0"/>
<line x1="452.5" y1="819.3" x2="452.5" y2="888.4" stroke-width="3" stroke-dasharray="27.3 6.4 1.3 6.3" stroke-dashoffset="0"/>
<line x1="452.5" y1="902.8" x2="452.5" y2="909" stroke-width="3" />
<line x1="452.5" y1="944" x2="452.5" y2="972" stroke-width="3" />
<line x1="452.5" y1="986" x2="452.5" y2="1001.5" stroke-width="3" />
<path d="M566.5 670.5 L568.9 668 L568.9 643 L603.2 643 L603.2 668 L605.6 670.5" fill="none" stroke-width="3" />
<line x1="585.6" y1="638" x2="585.6" y2="668" stroke-width="3" />
<line x1="585.6" y1="673.5" x2="585.6" y2="674.8" stroke-width="3" stroke-dasharray="1.3 1" stroke-dashoffset="0"/>
<line x1="585.6" y1="682" x2="585.6" y2="709" stroke-width="3" />
<path d="M353.6 1025.9 L361.9 1034.4 L380.5 1034.4 L389.4 1025.9" fill="none" stroke-width="3" />
<line x1="353.6" y1="1025.3" x2="389.4" y2="1025.3" stroke-width="3.6" />
<path d="M567.9 1025.9 L576.2 1034.4 L594.8 1034.4 L603.7 1025.9" fill="none" stroke-width="3" />
<line x1="567.9" y1="1025.3" x2="603.7" y2="1025.3" stroke-width="3.6" />
<line x1="371.2" y1="991.7" x2="371.2" y2="1040.3" stroke-width="3" />
<line x1="585.5" y1="952.2" x2="585.5" y2="979" stroke-width="3" />
<line x1="585.5" y1="986.6" x2="585.5" y2="987.9" stroke-width="3" stroke-dasharray="1.3 1" stroke-dashoffset="0"/>
<line x1="585.5" y1="992" x2="585.5" y2="1040.6" stroke-width="3" />
<circle cx="585.5" cy="987.3" r="17.5" fill="none" stroke-width="3" stroke-dasharray="14 5 1.3 5 1.3 5"  stroke-dashoffset="-40"/>
<path d="M768.6 717.4 H731.7 Q728.2 717.4 728.2 720.9 V773.7 Q728.2 777.2 731.7 777.2 H768.6" fill="none" stroke-width="3" />
<path d="M852.8 727.6 H898.2 L902.2 731.6 V763 L898.2 767 H852.8" fill="none" stroke-width="3" />
<path d="M852.8 731 H898.2 V763.6 H852.8" fill="none" stroke-width="3" />
<line x1="718" y1="747.3" x2="910" y2="747.3" stroke-width="3" stroke-dasharray="27.3 6.4 1.3 6.3" stroke-dashoffset="0"/>
<path d="M768.6 1030.7 H731.7 Q728.2 1030.7 728.2 1034.2 V1087 Q728.2 1090.5 731.7 1090.5 H768.6" fill="none" stroke-width="3" />
<path d="M852.8 1041.3 H898.2 L902.2 1045.3 V1075.9 L898.2 1079.9 H852.8" fill="none" stroke-width="3" />
<path d="M852.8 1043.4 H898.2 V1077.8 H852.8" fill="none" stroke-width="3" />
<line x1="718" y1="1060.6" x2="910" y2="1060.6" stroke-width="3" stroke-dasharray="27.3 6.4 1.3 6.3" stroke-dashoffset="0"/>
<line x1="870.6" y1="807.3" x2="870.6" y2="1000.4" stroke-width="3" />
<line x1="884.6" y1="807.3" x2="884.6" y2="1000.4" stroke-width="3" />
<line x1="901.6" y1="804.3" x2="901.6" y2="1003.4" stroke-width="3" />
<path d="M852.8 804.3 H867.6 Q870.6 804.3 870.6 807.3 M871.6 807.3 Q872.5 804.3 876 804.3 H880.6 L882 806.9 L883.6 804.3 H902.8" fill="none" stroke-width="3" />
<path d="M852.8 1003.4 H867.6 Q870.6 1003.4 870.6 1000.4 M871.6 1000.4 Q872.5 1003.4 876 1003.4 H880.6 L882 1000.8 L883.6 1003.4 H902.8" fill="none" stroke-width="3" />
<line x1="653.4" y1="903.7" x2="912.6" y2="903.7" stroke-width="3" stroke-dasharray="27.3 6.4 1.3 6.3" stroke-dashoffset="8.9"/>
<line x1="369.3" y1="607.4" x2="369.3" y2="656.2" stroke-width="3" />
<line x1="535.5" y1="607.4" x2="535.5" y2="656.2" stroke-width="3" />
<line x1="389.2" y1="618.1" x2="515.4" y2="618.1" stroke-width="3" />
<polygon points="370.4,618.1 401.9,613.2 401.9,623" fill="#000" stroke="none"/>
<polygon points="534.2,618.1 502.7,623 502.7,613.2" fill="#000" stroke="none"/>
<g style="mix-blend-mode:multiply"><text x="0" y="0" font-size="39.5" text-anchor="middle" transform="translate(452.3 596.2) scale(0.962 1)" fill="#000" stroke="none">Ø50H7</text></g>
<line x1="258.7" y1="670.3" x2="335.9" y2="670.3" stroke-width="3" />
<line x1="258.7" y1="1034.3" x2="344.2" y2="1034.3" stroke-width="3" />
<line x1="270.5" y1="690.3" x2="270.5" y2="1014.3" stroke-width="3" />
<polygon points="270.5,671.5 275.4,703 265.6,703" fill="#000" stroke="none"/>
<polygon points="270.5,1033.1 265.6,1001.6 275.4,1001.6" fill="#000" stroke="none"/>
<g style="mix-blend-mode:multiply"><text x="0" y="0" font-size="39.5" text-anchor="middle" transform="translate(252.3 854) rotate(-90) scale(0.962 1)" fill="#000" stroke="none">109,2</text></g>
</svg>
</body></html>
